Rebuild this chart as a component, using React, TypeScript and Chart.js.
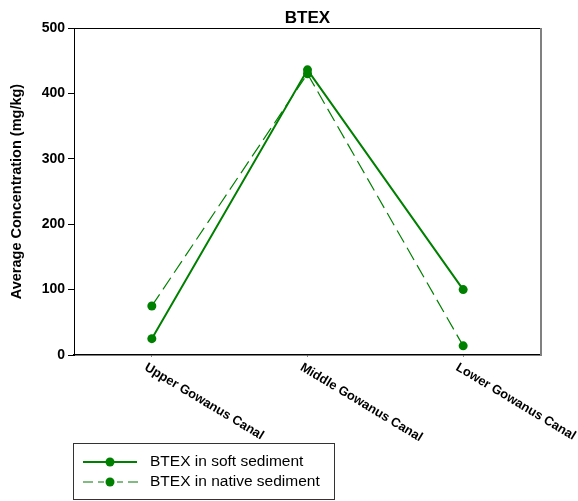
import React, { useEffect, useRef } from "react";
import { Chart, registerables } from "chart.js";

Chart.register(...registerables);

const categories = ["Upper Gowanus Canal", "Middle Gowanus Canal", "Lower Gowanus Canal"];
const softSediment = [25, 436, 100];
const nativeSediment = [75, 430, 14];
const yMin = 0;
const yMax = 500;
const yStep = 100;
const chartTitle = "BTEX";
const yAxisTitle = "Average Concentration (mg/kg)";
const seriesLabels = ["BTEX in soft sediment", "BTEX in native sediment"];

const GREEN = "#008000";
const FONT = '"Liberation Sans", Arial, Helvetica, sans-serif';

const customDraw = {
  id: "customDraw",
  afterDraw(chart: any) {
    const { ctx, chartArea: ca, scales } = chart;
    ctx.save();
    // top frame line
    ctx.strokeStyle = "#000";
    ctx.lineWidth = 1;
    ctx.beginPath();
    ctx.moveTo(ca.left, ca.top + 0.5);
    ctx.lineTo(ca.right, ca.top + 0.5);
    ctx.stroke();
    // right frame line (gray)
    ctx.strokeStyle = "#808080";
    ctx.lineWidth = 2;
    ctx.beginPath();
    ctx.moveTo(ca.right, ca.top);
    ctx.lineTo(ca.right, ca.bottom);
    ctx.stroke();

    // title
    ctx.fillStyle = "#000";
    ctx.font = `bold 17px ${FONT}`;
    ctx.textAlign = "center";
    ctx.textBaseline = "alphabetic";
    ctx.fillText(chartTitle, (ca.left + ca.right) / 2, 23);

    // rotated category labels
    const xs = scales.x;
    ctx.font = `bold 12.8px ${FONT}`;
    ctx.textAlign = "left";
    ctx.textBaseline = "top";
    categories.forEach((c, i) => {
      const x = xs.getPixelForValue(i);
      ctx.save();
      ctx.translate(x - 3, ca.bottom + 6);
      ctx.rotate((31 * Math.PI) / 180);
      ctx.fillText(c, 0, 0);
      ctx.restore();
    });

    // legend
    const lx = 73, ly = 443, lw = 261, lh = 56;
    ctx.strokeStyle = "#333";
    ctx.lineWidth = 1;
    ctx.strokeRect(lx + 0.5, ly + 0.5, lw, lh);
    const rows = [462, 482];
    // row 1 solid
    ctx.strokeStyle = GREEN;
    ctx.lineWidth = 2;
    ctx.beginPath();
    ctx.moveTo(83, rows[0]);
    ctx.lineTo(137, rows[0]);
    ctx.stroke();
    // row 2 dashed
    ctx.strokeStyle = "#5aa55a";
    ctx.lineWidth = 1.5;
    ctx.beginPath();
    ctx.moveTo(83, rows[1]);
    ctx.lineTo(93, rows[1]);
    ctx.moveTo(98, rows[1]);
    ctx.lineTo(104, rows[1]);
    ctx.moveTo(117, rows[1]);
    ctx.lineTo(123, rows[1]);
    ctx.moveTo(128, rows[1]);
    ctx.lineTo(138, rows[1]);
    ctx.stroke();
    ctx.fillStyle = GREEN;
    rows.forEach((ry) => {
      ctx.beginPath();
      ctx.arc(110, ry, 4.5, 0, Math.PI * 2);
      ctx.fill();
    });
    ctx.fillStyle = "#000";
    ctx.font = `15.5px ${FONT}`;
    ctx.textAlign = "left";
    ctx.textBaseline = "middle";
    seriesLabels.forEach((s, i) => ctx.fillText(s, 150, rows[i]));
    ctx.restore();
  },
};

export default function App() {
  const ref = useRef<HTMLCanvasElement | null>(null);
  useEffect(() => {
    if (!ref.current) return;
    const chart = new Chart(ref.current, {
      type: "line",
      data: {
        labels: categories,
        datasets: [
          {
            label: seriesLabels[0],
            data: softSediment,
            borderColor: GREEN,
            backgroundColor: GREEN,
            borderWidth: 2,
            pointRadius: 4.5,
            pointBorderWidth: 0,
            pointBackgroundColor: GREEN,
            tension: 0,
          },
          {
            label: seriesLabels[1],
            data: nativeSediment,
            borderColor: GREEN,
            backgroundColor: GREEN,
            borderWidth: 1.2,
            borderDash: [14, 6],
            pointRadius: 4.5,
            pointBorderWidth: 0,
            pointBackgroundColor: GREEN,
            tension: 0,
          },
        ],
      },
      options: {
        responsive: false,
        animation: false,
        devicePixelRatio: 1,
        layout: { padding: { top: 28, right: 37, left: 0, bottom: 0 } },
        plugins: {
          legend: { display: false },
          title: { display: false },
          tooltip: { enabled: false },
        },
        scales: {
          x: {
            type: "category",
            offset: true,
            ticks: { display: false },
            grid: { display: true, drawOnChartArea: false, drawTicks: true, tickLength: 2, color: "#888" },
            border: { display: true, color: "#000", width: 1.5 },
            afterFit: (s: any) => {
              s.height = 146;
            },
          },
          y: {
            type: "linear",
            min: yMin,
            max: yMax,
            ticks: {
              stepSize: yStep,
              color: "#000",
              font: { family: FONT, size: 14, weight: "bold" },
              padding: 3,
            },
            grid: { display: true, drawOnChartArea: false, drawTicks: true, tickLength: 6, color: "#000" },
            border: { display: true, color: "#000", width: 1 },
            title: {
              display: true,
              text: yAxisTitle,
              color: "#000",
              font: { family: FONT, size: 14.5, weight: "bold" },
              padding: { top: 8, bottom: 0 },
            },
            afterFit: (s: any) => {
              s.width = 74;
            },
          },
        },
      },
      plugins: [customDraw],
    });
    return () => chart.destroy();
  }, []);
  return (
    <div style={{ position: "absolute", left: 0, top: 0, width: 578, height: 501, background: "#fff" }}>
      <canvas ref={ref} width={578} height={501} style={{ width: 578, height: 501, display: "block" }} />
    </div>
  );
}
